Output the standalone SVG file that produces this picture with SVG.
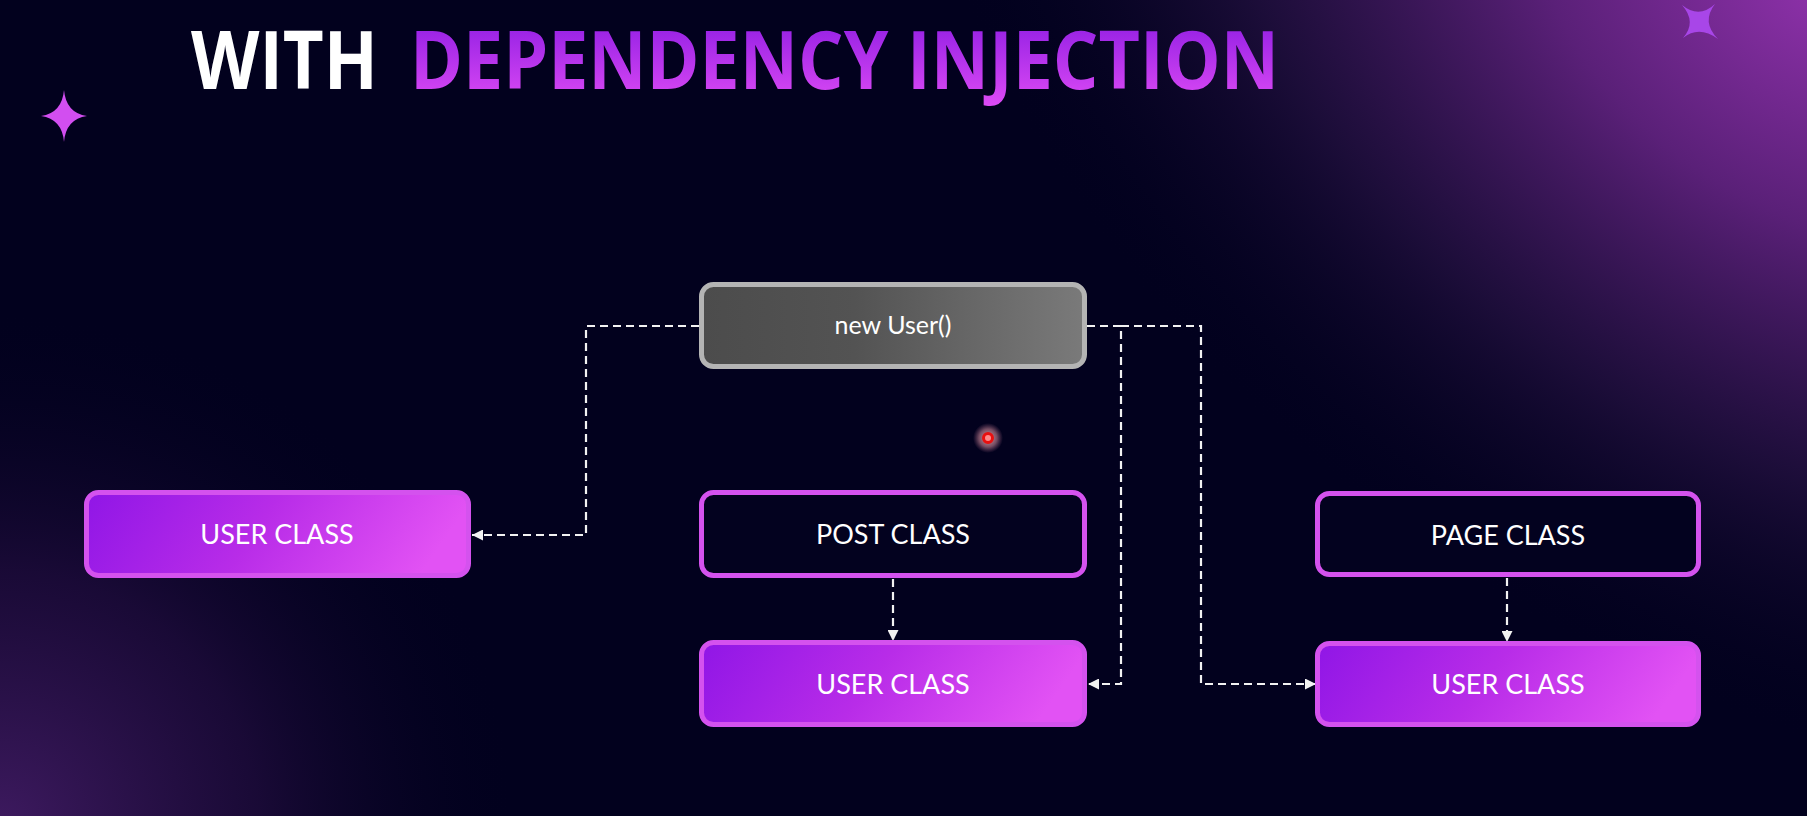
<svg xmlns="http://www.w3.org/2000/svg" width="1807" height="816" viewBox="0 0 1807 816">
  <defs>
    <radialGradient id="glowTR" gradientUnits="userSpaceOnUse" cx="1807" cy="0" r="840" gradientTransform="translate(1807 0) rotate(35) scale(1.2 0.8) translate(-1807 0)">
      <stop offset="0" stop-color="#8a30a6"/>
      <stop offset="0.3" stop-color="#5a2078"/>
      <stop offset="0.65" stop-color="#22103f" stop-opacity="0.8"/>
      <stop offset="1" stop-color="#02011e" stop-opacity="0"/>
    </radialGradient>
    <radialGradient id="glowBL" gradientUnits="userSpaceOnUse" cx="0" cy="830" r="520">
      <stop offset="0" stop-color="#3e1a60"/>
      <stop offset="0.5" stop-color="#1f0c3c" stop-opacity="0.8"/>
      <stop offset="1" stop-color="#02011e" stop-opacity="0"/>
    </radialGradient>
    <linearGradient id="titleGrad" x1="0" y1="0" x2="0" y2="1">
      <stop offset="0" stop-color="#8416e0"/>
      <stop offset="1" stop-color="#e24ef6"/>
    </linearGradient>
    <linearGradient id="userFill" x1="0" y1="0" x2="1" y2="0.15">
      <stop offset="0" stop-color="#9016e6"/>
      <stop offset="0.5" stop-color="#b82ce8"/>
      <stop offset="1" stop-color="#e252f4"/>
    </linearGradient>
    <linearGradient id="grayFill" x1="0" y1="0" x2="1" y2="0">
      <stop offset="0" stop-color="#4c4c4c"/>
      <stop offset="0.4" stop-color="#535353"/>
      <stop offset="1" stop-color="#7a7a7a"/>
    </linearGradient>
    <radialGradient id="laserHalo">
      <stop offset="0" stop-color="#ffb0b0" stop-opacity="0.9"/>
      <stop offset="0.6" stop-color="#e89aa8" stop-opacity="0.5"/>
      <stop offset="1" stop-color="#c07090" stop-opacity="0"/>
    </radialGradient>
    <marker id="arrow" viewBox="0 0 10 10" refX="10" refY="5" markerWidth="11" markerHeight="11" markerUnits="userSpaceOnUse" orient="auto">
      <path d="M0,0 L10,5 L0,10 Z" fill="#f2f2f2"/>
    </marker>
    <style>
      .box-user { fill: url(#userFill); stroke: #d452ee; stroke-width: 5; }
      .box-dark { fill: #03021f; stroke: #d452ee; stroke-width: 5; }
      .box-gray { fill: url(#grayFill); stroke: #b4b4b4; stroke-width: 5; }
      .label { font-family: Lato, "Open Sans", sans-serif; font-size: 27px; fill: #ffffff; text-anchor: middle; }
      .code { font-family: Lato, "Open Sans", sans-serif; font-size: 25px; fill: #ffffff; text-anchor: middle; }
      .link { fill: none; stroke: #f2f2f2; stroke-width: 2.2; stroke-dasharray: 8 5; }
      .title { font-family: "Open Sans", "Liberation Sans", sans-serif; font-weight: 700; font-size: 80px; }
    </style>
  </defs>

  <!-- background -->
  <rect width="1807" height="816" fill="#02011e"/>
  <rect width="1807" height="816" fill="url(#glowTR)"/>
  <rect width="1807" height="816" fill="url(#glowBL)"/>

  <!-- decorative sparkles -->
  <path d="M64,90 Q66,113 87,116 Q66,119 64,142 Q62,119 41,116 Q62,113 64,90 Z" fill="#d24ef0"/>
  <path d="M1682,5 Q1699,19 1715,4 Q1701,22 1718,39 Q1699,25 1683,38 Q1697,22 1682,5 Z" fill="#a846e8"/>

  <!-- title -->
  <g id="title">
    <text class="title" x="191" y="89" fill="#ffffff" textLength="187" lengthAdjust="spacingAndGlyphs">WITH</text>
    <text class="title" x="410" y="89" fill="url(#titleGrad)" textLength="869" lengthAdjust="spacingAndGlyphs">DEPENDENCY INJECTION</text>
  </g>

  <!-- connectors -->
  <g id="connectors">
    <path class="link" d="M699,326 H586 V535 H472" marker-end="url(#arrow)"/>
    <path class="link" d="M1087,326 H1121 V684 H1088" marker-end="url(#arrow)"/>
    <path class="link" d="M1121,326 H1201 V684 H1316" marker-end="url(#arrow)"/>
    <path class="link" d="M893,579 V641" marker-end="url(#arrow)"/>
    <path class="link" d="M1507,578 V642" marker-end="url(#arrow)"/>
  </g>

  <!-- nodes -->
  <g id="node-new-user">
    <rect class="box-gray" x="701.5" y="284.5" width="383" height="82" rx="12"/>
    <text class="code" x="893" y="334">new User()</text>
  </g>
  <g id="node-user-class-1">
    <rect class="box-user" x="86.5" y="492.5" width="382" height="83" rx="12"/>
    <text class="label" x="277" y="544">USER CLASS</text>
  </g>
  <g id="node-post-class">
    <rect class="box-dark" x="701.5" y="492.5" width="383" height="83" rx="12"/>
    <text class="label" x="893" y="544">POST CLASS</text>
  </g>
  <g id="node-user-class-2">
    <rect class="box-user" x="701.5" y="642.5" width="383" height="82" rx="12"/>
    <text class="label" x="893" y="694">USER CLASS</text>
  </g>
  <g id="node-page-class">
    <rect class="box-dark" x="1317.5" y="493.5" width="381" height="81" rx="12"/>
    <text class="label" x="1508" y="545">PAGE CLASS</text>
  </g>
  <g id="node-user-class-3">
    <rect class="box-user" x="1317.5" y="643.5" width="381" height="81" rx="12"/>
    <text class="label" x="1508" y="694">USER CLASS</text>
  </g>

  <!-- pointer dot -->
  <circle cx="988" cy="438" r="15" fill="url(#laserHalo)"/>
  <circle cx="988" cy="438" r="4.5" fill="#ff8a8a" stroke="#e81010" stroke-width="3"/>
</svg>
